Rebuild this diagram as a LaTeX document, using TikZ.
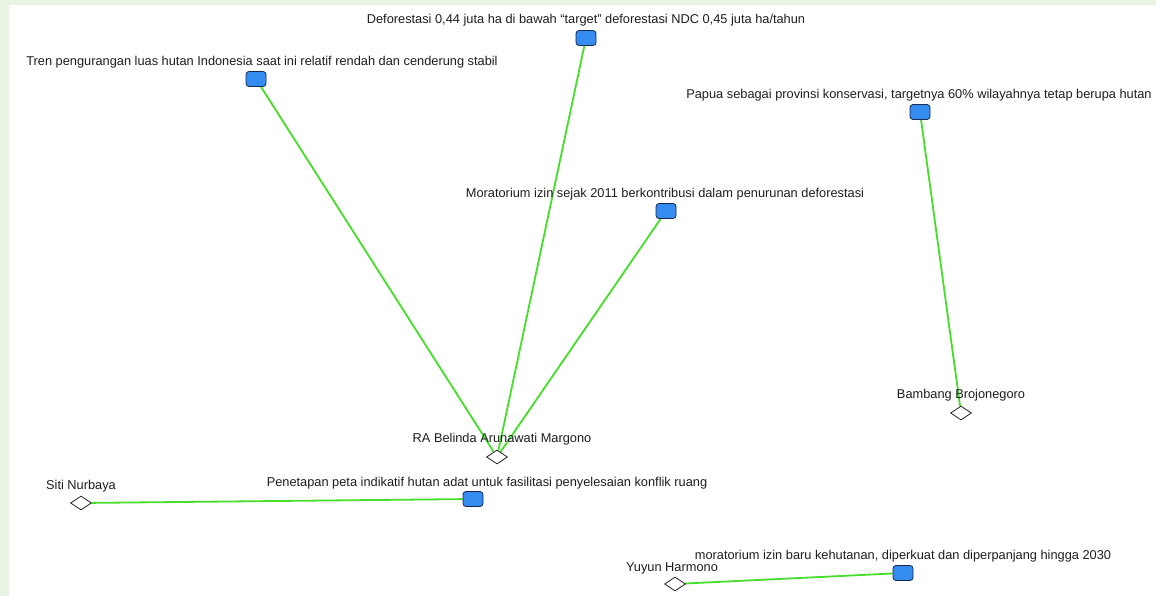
\documentclass[tikz,border=0pt]{standalone}
\usepackage{fontspec}
\setmainfont{Liberation Sans}
\usetikzlibrary{shapes.geometric,backgrounds}
\definecolor{bggreen}{RGB}{232,243,226}
\definecolor{edgegreen}{RGB}{70,222,42}
\definecolor{boxblue}{RGB}{52,140,240}
\definecolor{boxline}{RGB}{20,40,80}
\definecolor{txt}{RGB}{30,30,30}
\tikzset{
  claim/.style={draw=boxline, fill=boxblue, rounded corners=3pt, minimum width=20pt, minimum height=15pt, inner sep=0pt, line width=0.8pt},
  person/.style={diamond, draw=black!85, fill=white, minimum width=21pt, minimum height=14pt, inner sep=0pt, line width=0.8pt},
  lbl/.style={font=\fontsize{12.8}{14}\selectfont, text=txt, inner sep=0pt, anchor=base},
  link/.style={draw=edgegreen, line width=1.8pt}
}
\begin{document}
\begin{tikzpicture}[x=1pt,y=-1pt]
\useasboundingbox (0,0) rectangle (1156,596);
% nodes
\node[claim] (tren) at (256,79) {};
\node[claim] (defo) at (586,38) {};
\node[claim] (papua) at (920,112) {};
\node[claim] (mora) at (666,211) {};
\node[claim] (peta) at (473,499) {};
\node[claim] (baru) at (903,573) {};
\node[person] (belinda) at (497,457) {};
\node[person] (bambang) at (961,413) {};
\node[person] (siti) at (81,503) {};
\node[person] (yuyun) at (675,584) {};
% labels
\node[lbl] (ltren) at (262,66) {Tren pengurangan luas hutan Indonesia saat ini relatif rendah dan cenderung stabil};
\node[lbl] (ldefo) at (586,24) {Deforestasi 0,44 juta ha di bawah ``target'' deforestasi NDC 0,45 juta ha/tahun};
\node[lbl] (lpapua) at (919,99) {Papua sebagai provinsi konservasi, targetnya 60\% wilayahnya tetap berupa hutan};
\node[lbl] (lmora) at (665,197) {Moratorium izin sejak 2011 berkontribusi dalam penurunan deforestasi};
\node[lbl] (lbelinda) at (502,442) {RA Belinda Arunawati Margono};
\node[lbl] (lbambang) at (961,398) {Bambang Brojonegoro};
\node[lbl] (lsiti) at (81,489) {Siti Nurbaya};
\node[lbl] (lpeta) at (487,486) {Penetapan peta indikatif hutan adat untuk fasilitasi penyelesaian konflik ruang};
\node[lbl] (lyuyun) at (672,571) {Yuyun Harmono};
\node[lbl] (lbaru) at (903,559) {moratorium izin baru kehutanan, diperkuat dan diperpanjang hingga 2030};
\begin{scope}[on background layer]
  \fill[bggreen] (0,0) rectangle (1156,596);
  \fill[white] (9,5) rectangle (1156,596);
  \draw[link] (tren) -- (belinda);
  \draw[link] (defo) -- (belinda);
  \draw[link] (mora) -- (belinda);
  \draw[link] (papua) -- (bambang);
  \draw[link] (siti) -- (peta);
  \draw[link] (yuyun) -- (baru);
\end{scope}
\end{tikzpicture}
\end{document}
